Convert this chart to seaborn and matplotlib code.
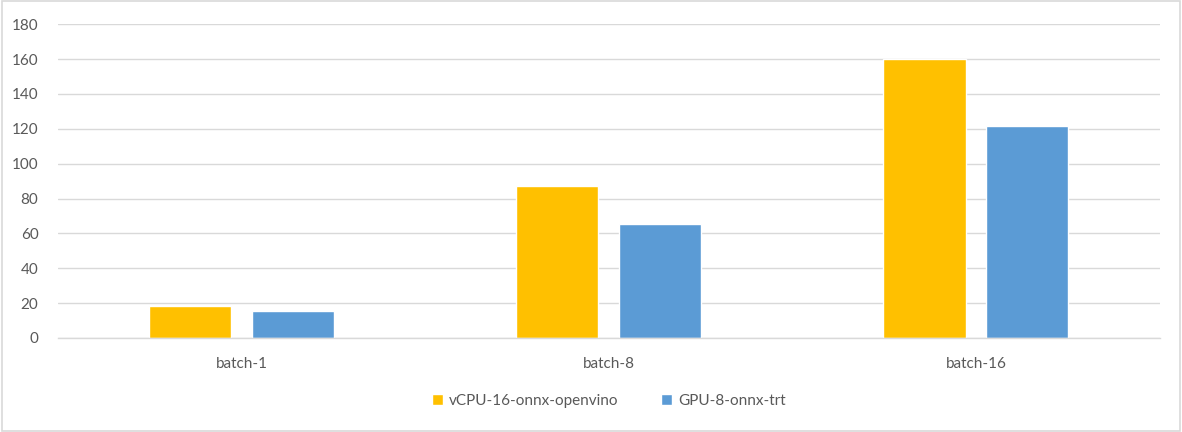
import seaborn as sns
import pandas as pd
import matplotlib.pyplot as plt
from matplotlib.patches import Rectangle

categories = ["batch-1", "batch-8", "batch-16"]
series = ["vCPU-16-onnx-openvino", "GPU-8-onnx-trt"]
cpu_vals = [18.4, 86.9, 160.0]
gpu_vals = [15.6, 65.6, 121.6]
colors = ["#FFC000", "#5B9BD5"]

df = pd.DataFrame({
    "batch": categories * 2,
    "series": [series[0]] * 3 + [series[1]] * 3,
    "value": cpu_vals + gpu_vals,
})

sns.set_style("white")
plt.rcParams["font.family"] = ["Lato", "DejaVu Sans"]

fig = plt.figure(figsize=(11.82, 4.32), dpi=100)
ax = fig.add_axes([0.049, 0.2176, 0.932, 0.7264])

sns.barplot(data=df, x="batch", y="value", hue="series", palette=colors,
            width=0.56, gap=0.2, saturation=1, ax=ax)

ax.set_ylim(0, 180)
ax.set_yticks(range(0, 181, 20))
ax.yaxis.grid(True, color="#D9D9D9", linewidth=1)
ax.set_axisbelow(True)
for s in ["top", "left", "right"]:
    ax.spines[s].set_visible(False)
ax.spines["bottom"].set_color("#D9D9D9")
ax.spines["bottom"].set_linewidth(1)
ax.tick_params(axis="both", length=0, labelsize=11, labelcolor="#595959")
ax.tick_params(axis="y", pad=14)
ax.tick_params(axis="x", pad=14)
ax.set_xlabel("")
ax.set_ylabel("")

ax.legend(loc="center", bbox_to_anchor=(0.5, -0.2), ncol=2, frameon=False,
          fontsize=11, labelcolor="#595959", handlelength=0.7, handleheight=0.7,
          handletextpad=0.4, columnspacing=2.8)

fig.patches.append(Rectangle((0.002, 0.003), 0.996, 0.994, transform=fig.transFigure,
                             fill=False, edgecolor="#D9D9D9", linewidth=1.2))

fig.savefig("out.png", dpi=100, facecolor="white")
